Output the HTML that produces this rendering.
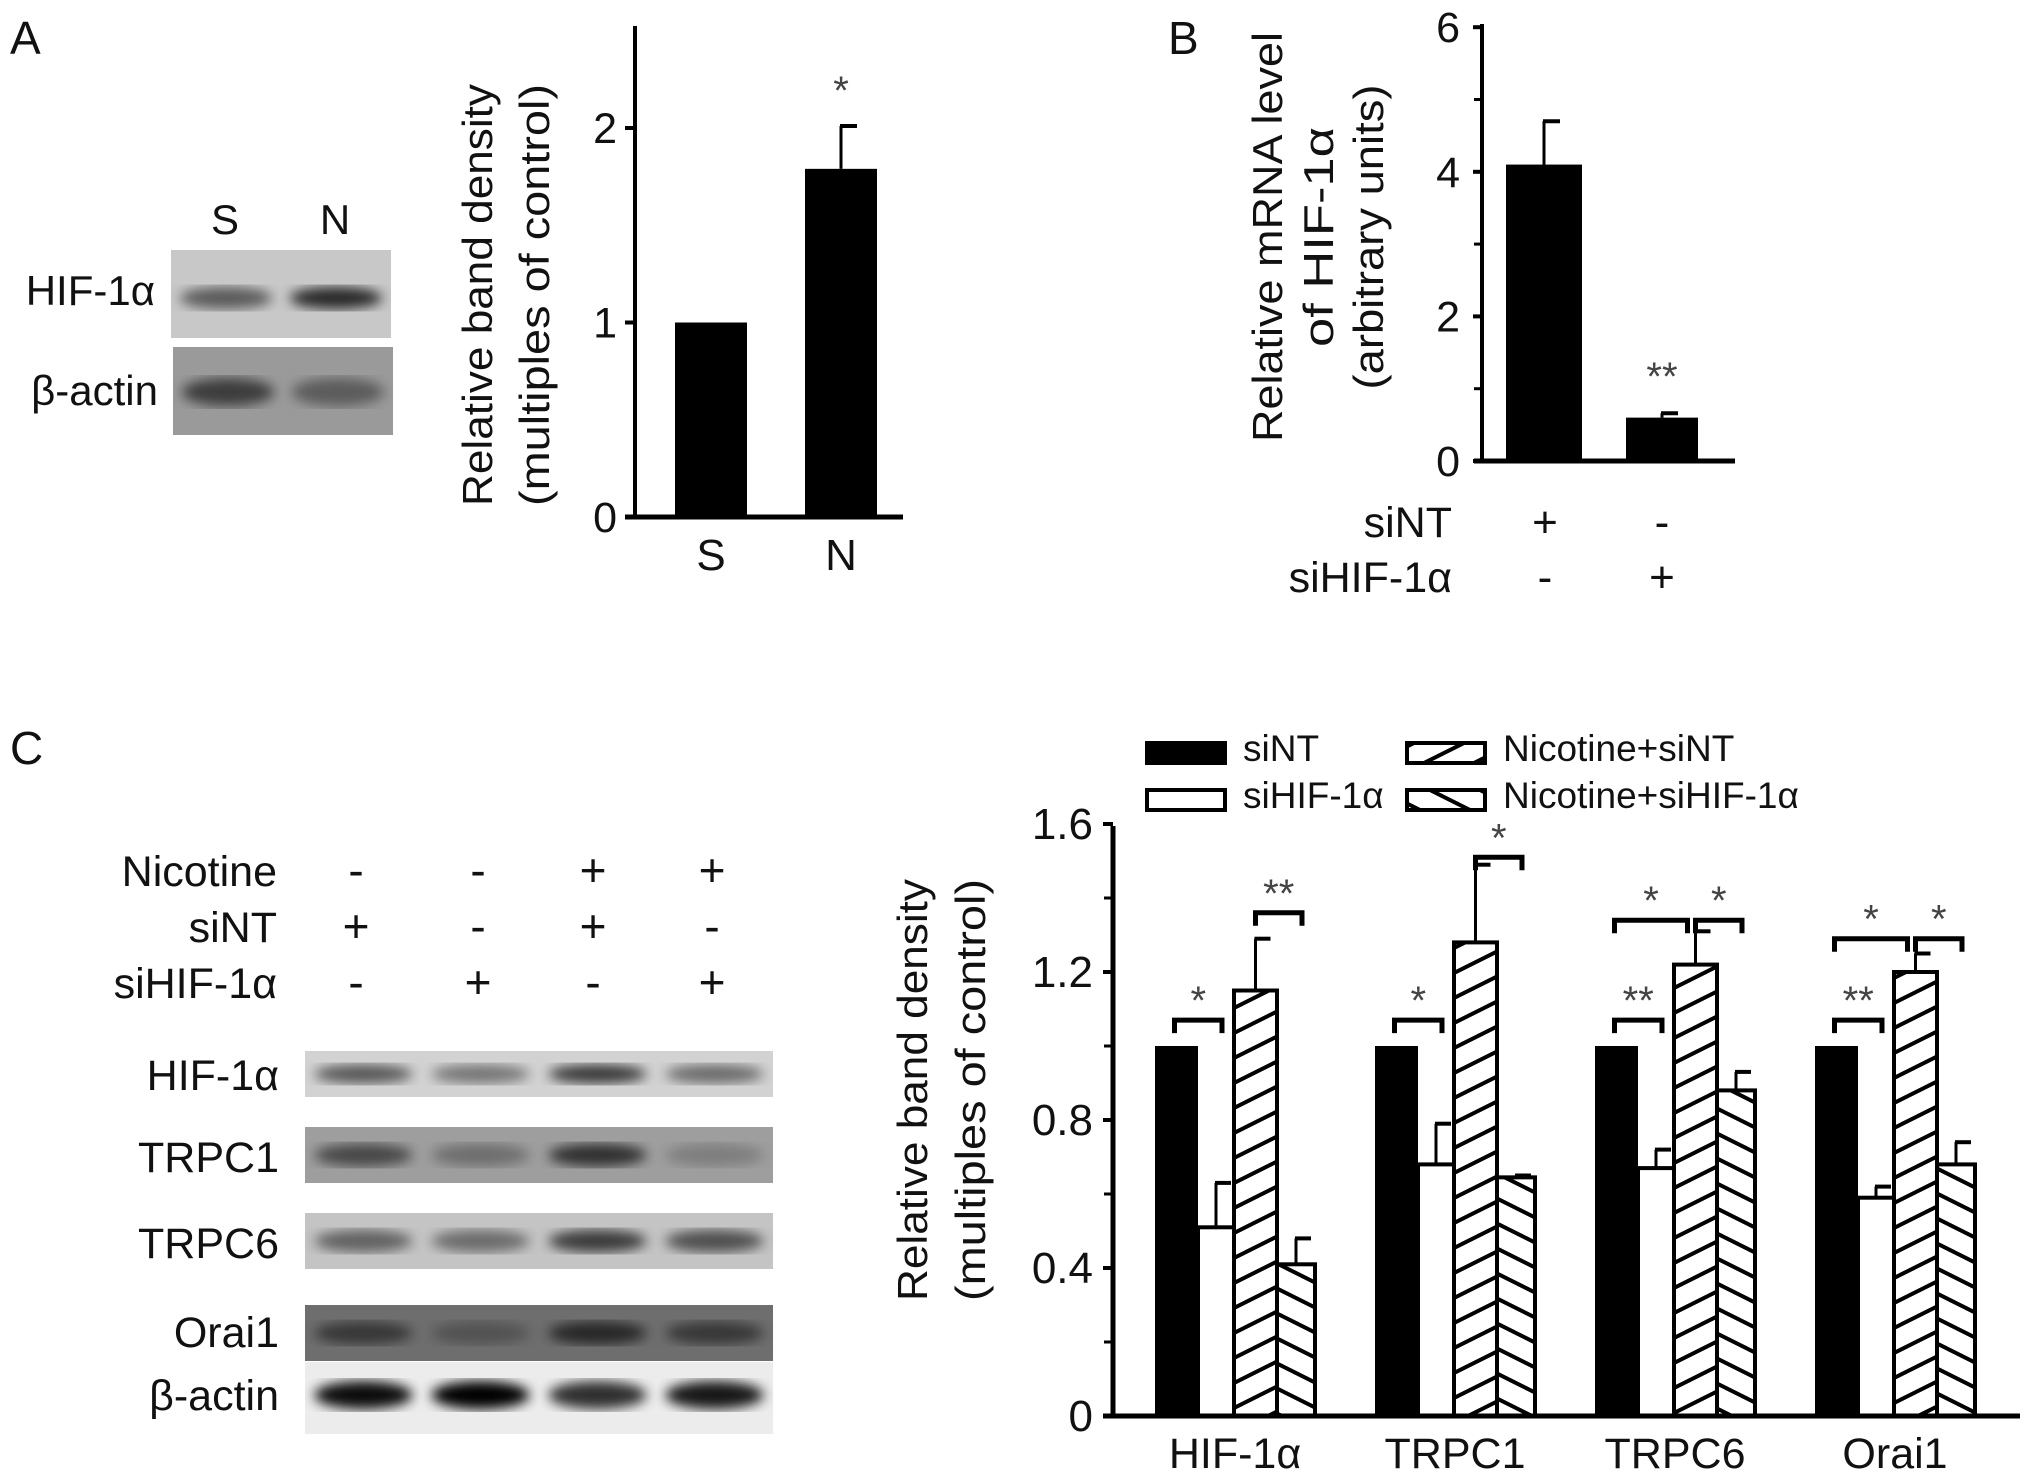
<!DOCTYPE html>
<html><head><meta charset="utf-8"><style>
html,body{margin:0;padding:0;background:#fff;}
svg{display:block;font-family:"Liberation Sans",sans-serif;}
</style></head><body>
<svg id="fig" width="2031" height="1476" viewBox="0 0 2031 1476" xmlns="http://www.w3.org/2000/svg">
<defs>
<pattern id="hatchA" patternUnits="userSpaceOnUse" width="50" height="25">
<path d="M-10,30 L60,-5 M-10,5 L10,-5 M40,30 L60,20" stroke="#000" stroke-width="4"/>
</pattern>
<pattern id="hatchB" patternUnits="userSpaceOnUse" width="50" height="25">
<path d="M-10,-5 L60,30 M-10,20 L10,30 M40,-5 L60,5" stroke="#000" stroke-width="4"/>
</pattern>
<filter id="blur6"><feGaussianBlur stdDeviation="6"/></filter>
</defs>
<g id="root"></g>
</svg>
<script>
// Panel A data
const aCats = ["S","N"];
const aVals = [1.0, 1.79];
const aErrs = [0, 0.22];
const aTicks = [0,1,2];
// Panel B data
const bVals = [4.1, 0.6];
const bErrs = [0.6, 0.06];
const bTicks = [0,2,4,6];
const bMinor = [1,3,5];
// Panel C data
const cCats = ["HIF-1α","TRPC1","TRPC6","Orai1"];
const cSeries = ["siNT","siHIF-1α","Nicotine+siNT","Nicotine+siHIF-1α"];
const cSiNT = [1.0,1.0,1.0,1.0];
const cSiHIF = [0.51,0.68,0.67,0.59];
const cNicSiNT = [1.15,1.28,1.22,1.20];
const cNicSiHIF = [0.41,0.645,0.88,0.68];
const cErrSiNT = [0,0,0,0];
const cErrSiHIF = [0.12,0.11,0.05,0.03];
const cErrNicSiNT = [0.14,0.21,0.09,0.05];
const cErrNicSiHIF = [0.07,0.005,0.05,0.06];
const cTicks = ["0","0.4","0.8","1.2","1.6"];
const cTickVals = [0,0.4,0.8,1.2,1.6];
const cMinor = [0.2,0.6,1.0,1.4];
// significance brackets: [group, fromBar, toBar, level, label]
const cSig = [
 [0,0,1,1.07,"*"],[0,2,3,1.36,"**"],
 [1,0,1,1.07,"*"],[1,2,3,1.51,"*"],
 [2,0,1,1.07,"**"],[2,0,2,1.34,"*"],[2,2,3,1.34,"*"],
 [3,0,1,1.07,"**"],[3,0,2,1.29,"*"],[3,2,3,1.29,"*"]
];

const NS="http://www.w3.org/2000/svg";
const root=document.getElementById('root');
function el(tag,attrs,parent,text){const e=document.createElementNS(NS,tag);for(const k in attrs)e.setAttribute(k,attrs[k]);if(text!==undefined)e.textContent=text;(parent||root).appendChild(e);return e;}
function txt(x,y,s,size,anchor,parent,extra){return el('text',Object.assign({x:x,y:y,'font-size':size,'text-anchor':anchor||'start',fill:'#111'},extra||{}),parent,s);}
function rtitle(cx,cy,s,len,parent){return el('text',{x:0,y:0,'font-size':42,'text-anchor':'middle',fill:'#111',textLength:len,lengthAdjust:'spacingAndGlyphs',transform:'translate('+cx+','+cy+') rotate(-90)'},parent,s);}

let t=txt(10,54,"A",46);
t=txt(1168,54,"B",46);
t=txt(10,764,"C",46);

function blot(x,y,w,h,bg,lanes,bandY,bandH,name){
  const g=el('g',{});
  
  
  el('rect',{x:x,y:y,width:w,height:h,fill:bg},g);
  const lw=w/lanes.length;
  lanes.forEach((d,i)=>{
    el('ellipse',{cx:x+lw*(i+0.5),cy:y+bandY,rx:lw*0.42,ry:bandH,fill:'#000',opacity:d,filter:'url(#blur6)'},g);
  });
  return g;
}
// Panel A blots
t=txt(225,234,"S",42,'middle');
t=txt(335,234,"N",42,'middle');
blot(171,250,220,88,'#c8c8c8',[0.55,0.8],48,11,'blot-a-hif1a');
blot(173,347,220,88,'#9a9a9a',[0.6,0.4],45,14,'blot-a-beta-actin');
t=txt(155,305,"HIF-1α",42,'end');
t=txt(158,405,"β-actin",42,'end');

// ---- Panel A chart
(function(){
  const g=el('g',{});
  const x0=635,y0=517,ppu=194.5;
  const Y=v=>y0-v*ppu;
  const barX=[675,805],bw=72;
  aVals.forEach((v,i)=>{
    const r=el('rect',{x:barX[i],y:Y(v),width:bw,height:y0-Y(v),fill:'#000'},g);
    
    
    if(aErrs[i]>0){
      const cx=barX[i]+bw/2;
      el('line',{x1:cx,y1:Y(v),x2:cx,y2:Y(v+aErrs[i]),stroke:'#000','stroke-width':3},g);
      el('line',{x1:cx-1,y1:Y(v+aErrs[i]),x2:cx+16,y2:Y(v+aErrs[i]),stroke:'#000','stroke-width':4},g);
      const s=txt(cx,Y(v+aErrs[i])-22,"*",40,'middle',g,{fill:'#444'});
      
    }
    const l=txt(barX[i]+bw/2,570,aCats[i],44,'middle',g);
    
  });
  el('line',{x1:x0,y1:26,x2:x0,y2:y0+2,stroke:'#000','stroke-width':4},g);
  el('line',{x1:x0-10,y1:y0,x2:903,y2:y0,stroke:'#000','stroke-width':5},g);
  aTicks.forEach(v=>{
    el('line',{x1:x0-10,y1:Y(v),x2:x0,y2:Y(v),stroke:'#000','stroke-width':4},g);
    const l=txt(x0-18,Y(v)+15,String(v),43,'end',g);
    
  });
  let tt=rtitle(492,295,"Relative band density",422,g);
  
  tt=rtitle(549,295,"(multiples of control)",422,g);
  
})();

// ---- Panel B chart
(function(){
  const g=el('g',{});
  const x0=1482,y0=461,ppu=72.3;
  const Y=v=>y0-v*ppu;
  const barX=[1506,1626],bw=[76,72];
  const names=['sint','sihif1a'];
  bVals.forEach((v,i)=>{
    const r=el('rect',{x:barX[i],y:Y(v),width:bw[i],height:y0-Y(v),fill:'#000'},g);
    
    const cx=barX[i]+bw[i]/2;
    el('line',{x1:cx,y1:Y(v),x2:cx,y2:Y(v+bErrs[i]),stroke:'#000','stroke-width':3},g);
    el('line',{x1:cx-1,y1:Y(v+bErrs[i]),x2:cx+16,y2:Y(v+bErrs[i]),stroke:'#000','stroke-width':4},g);
  });
  const s=txt(1662,390,"**",40,'middle',g,{fill:'#444'});
  el('line',{x1:x0,y1:24,x2:x0,y2:y0+2,stroke:'#000','stroke-width':4},g);
  el('line',{x1:x0-8,y1:y0,x2:1735,y2:y0,stroke:'#000','stroke-width':5},g);
  bTicks.forEach(v=>{
    el('line',{x1:x0-9,y1:Y(v),x2:x0,y2:Y(v),stroke:'#000','stroke-width':4},g);
    const l=txt(x0-22,Y(v)+15,String(v),43,'end',g);
  });
  bMinor.forEach(v=>{el('line',{x1:x0-8,y1:Y(v),x2:x0,y2:Y(v),stroke:'#000','stroke-width':3},g);});
  const lines=[["Relative mRNA level",1282,410],["of HIF-1α",1333,220],["(arbitrary units)",1383,305]];
  lines.forEach((ln,i)=>{
    const tt=rtitle(ln[1],237,ln[0],ln[2],g);
    
  });
  let l=txt(1452,537,"siNT",43,'end',g);
  l=txt(1452,592,"siHIF-1α",43,'end',g);
  [["+","-"],["-","+"]].forEach((row,ri)=>row.forEach((c,ci)=>{
    const m=txt([1545,1662][ci],[537,592][ri],c,44,'middle',g);
  }));
})();

// ---- Panel C treatment table + blots
(function(){
  const g=el('g',{});
  const rows=["Nicotine","siNT","siHIF-1α"],ry=[886,942,998];
  const marks=[["-","-","+","+"],["+","-","+","-"],["-","+","-","+"]];
  const cx=[356,478,593,712];
  rows.forEach((r,i)=>{
    const l=txt(277,ry[i],r,43,'end',g);
    marks[i].forEach((m,j)=>{const k=txt(cx[j],ry[i],m,46,'middle',g);});
  });
  const blots=[["hif1a",1051,46,'#d2d2d2',[0.6,0.45,0.75,0.5]],["trpc1",1127,56,'#9e9e9e',[0.55,0.3,0.7,0.2]],
    ["trpc6",1213,56,'#c4c4c4',[0.5,0.45,0.7,0.6]],["orai1",1305,56,'#6e6e6e',[0.5,0.25,0.65,0.5]]];
  blots.forEach(b=>{blot(305,b[1],468,b[2],b[3],b[4],b[2]*0.5,Math.min(12,b[2]*0.2),'blot-c-'+b[0]);});
  blot(305,1362,468,72,'#ececec',[0.95,1,0.8,0.9],33,14,'blot-c-beta-actin');
  const labs=[["HIF-1α",1090],["TRPC1",1172],["TRPC6",1258],["Orai1",1347],["β-actin",1410]];
  labs.forEach(l=>{const q=txt(279,l[1],l[0],43,'end',g);});
})();

// ---- Panel C chart
(function(){
  const g=el('g',{});
  const x0=1113,y0=1416,ppu=370;
  const Y=v=>y0-v*ppu;
  const groupX=i=>1155+i*220;
  const offs=[0,43,79,122],wid=[43,36,43,38];
  const fills=['#000','#fff','url(#hatchA)','url(#hatchB)'];
  const vals=[cSiNT,cSiHIF,cNicSiNT,cNicSiHIF],errs=[cErrSiNT,cErrSiHIF,cErrNicSiNT,cErrNicSiHIF];
  const snames=['sint','sihif1a','nicotine-sint','nicotine-sihif1a'];
  cCats.forEach((c,gi)=>{
    for(let s=0;s<4;s++){
      const v=vals[s][gi],x=groupX(gi)+offs[s],w=wid[s];
      const r=el('rect',{x:x,y:Y(v),width:w,height:y0-Y(v),fill:fills[s],stroke:'#000','stroke-width':s==0?0:4},g);
      
      
      if(errs[s][gi]>0){
        const cx=x+w/2;
        el('line',{x1:cx,y1:Y(v),x2:cx,y2:Y(v+errs[s][gi]),stroke:'#000','stroke-width':3},g);
        el('line',{x1:cx-1,y1:Y(v+errs[s][gi]),x2:cx+15,y2:Y(v+errs[s][gi]),stroke:'#000','stroke-width':4},g);
      }
    }
    const l=txt(groupX(gi)+80,1468,c,43,'middle',g);
    
  });
  cSig.forEach(sg=>{
    const [gi,a,b,lv,lab]=sg;
    const xa=groupX(gi)+offs[a]+wid[a]/2+(a==0?-2:0),xb=groupX(gi)+offs[b]+wid[b]/2+(b==2?-8:6);
    const y=Y(lv);
    const p=el('path',{d:`M${xa},${y+13} L${xa},${y} L${xb},${y} L${xb},${y+13}`,fill:'none',stroke:'#000','stroke-width':5},g);
    
    const s=txt((xa+xb)/2,y-6,lab,40,'middle',g,{fill:'#444'});
    
  });
  el('line',{x1:x0,y1:826,x2:x0,y2:y0+2,stroke:'#000','stroke-width':5},g);
  el('line',{x1:x0-10,y1:y0,x2:2020,y2:y0,stroke:'#000','stroke-width':5},g);
  cTickVals.forEach((v,i)=>{
    el('line',{x1:x0-10,y1:Y(v),x2:x0,y2:Y(v),stroke:'#000','stroke-width':4},g);
    const l=txt(x0-20,Y(v)+15,cTicks[i],44,'end',g);
  });
  cMinor.forEach(v=>{el('line',{x1:x0-9,y1:Y(v),x2:x0,y2:Y(v),stroke:'#000','stroke-width':3},g);});
  let tt=rtitle(927,1090,"Relative band density",422,g);
  
  tt=rtitle(985,1090,"(multiples of control)",422,g);
  
  const lg=el('g',{},g);
  const lx=[1147,1147,1407,1407],ly=[743,790,743,790];
  cSeries.forEach((s,i)=>{
    const e=el('g',{},lg);
    el('rect',{x:lx[i],y:ly[i],width:78,height:20,fill:fills[i],stroke:'#000','stroke-width':4},e);
    txt(lx[i]+96,ly[i]+18,s,37,'start',e);
  });
})();
</script>
</body></html>
